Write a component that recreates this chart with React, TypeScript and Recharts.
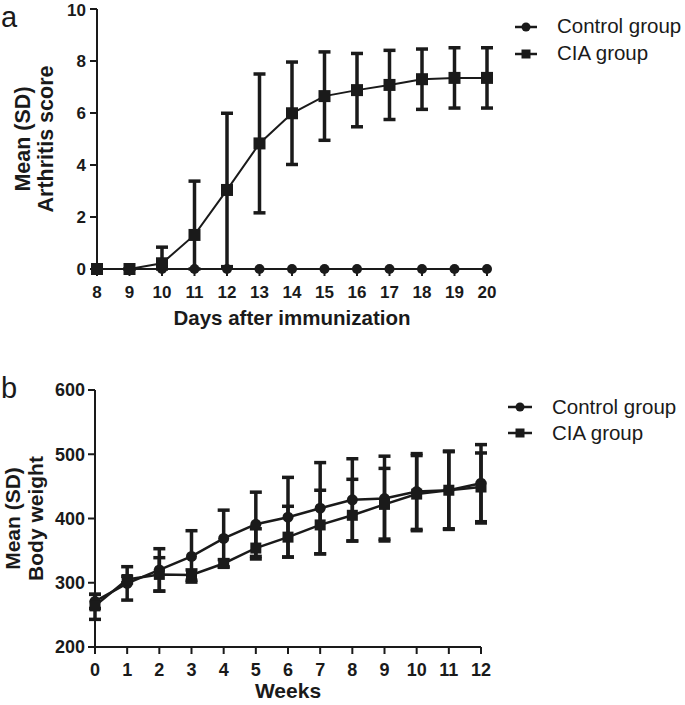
import React from "react";
import { LineChart, Line, XAxis, YAxis, ErrorBar } from "recharts";

const FONT = '"Liberation Sans", Arial, Helvetica, sans-serif';
const INK = "#1a1a1a";

// panel a: arthritis score
const days = [8, 9, 10, 11, 12, 13, 14, 15, 16, 17, 18, 19, 20];
const scoreTicks = [0, 2, 4, 6, 8, 10];
const controlScore = [0, 0, 0, 0, 0, 0, 0, 0, 0, 0, 0, 0, 0];
const ciaScore = [0, 0, 0.22, 1.31, 3.04, 4.83, 5.99, 6.65, 6.88, 7.08, 7.3, 7.35, 7.35];
const ciaScoreSd = [0, 0, 0.62, 2.07, 2.95, 2.67, 1.97, 1.7, 1.41, 1.33, 1.16, 1.16, 1.16];

// panel b: body weight
const weeks = [0, 1, 2, 3, 4, 5, 6, 7, 8, 9, 10, 11, 12];
const weightTicks = [200, 300, 400, 500, 600];
const controlWeight = [271, 299, 320, 341, 369, 391, 402, 416, 429, 431, 442, 444, 455];
const controlWeightSd = [11, 26, 33, 40, 44, 50, 62, 71, 64, 66, 59, 61, 60];
const ciaWeight = [264, 305, 313, 312, 330, 354, 371, 390, 405, 422, 438, 444, 449];
const ciaWeightSdUp = [18, 5, 26, 8, 6, 30, 48, 54, 56, 56, 60, 60, 53];
const ciaWeightSdDown = [21, 5, 26, 8, 6, 17, 31, 45, 40, 54, 57, 60, 56];

const groupNames = ["Control group", "CIA group"];

const scoreData = days.map((d, i) => ({
  day: d,
  control: controlScore[i],
  cia: ciaScore[i],
  // lower bar stops at the axis
  ciaErr: [Math.min(ciaScoreSd[i], ciaScore[i]), ciaScoreSd[i]],
}));

const weightData = weeks.map((w, i) => ({
  week: w,
  control: controlWeight[i],
  controlErr: controlWeightSd[i],
  cia: ciaWeight[i],
  ciaErr: [ciaWeightSdDown[i], ciaWeightSdUp[i]],
}));

const squareDot = (size: number) => (props: any) => {
  const { cx, cy, index } = props;
  return (
    <rect
      key={`sq-${index}`}
      x={cx - size / 2}
      y={cy - size / 2}
      width={size}
      height={size}
      fill={INK}
    />
  );
};

const rotatedLabel = (lines: string[], xs: number[], size: number) => (props: any) => {
  const vb = props.viewBox || {};
  const cy = vb.y + vb.height / 2;
  return (
    <g>
      {lines.map((t, i) => (
        <text
          key={t}
          x={xs[i]}
          y={cy}
          transform={`rotate(-90 ${xs[i]} ${cy})`}
          textAnchor="middle"
          fontFamily={FONT}
          fontWeight={700}
          fontSize={size}
          fill={INK}
        >
          {t}
        </text>
      ))}
    </g>
  );
};

const bottomLabel = (text: string, y: number, size: number) => (props: any) => {
  const vb = props.viewBox || {};
  return (
    <text
      x={vb.x + vb.width / 2}
      y={y}
      textAnchor="middle"
      fontFamily={FONT}
      fontWeight={700}
      fontSize={size}
      fill={INK}
    >
      {text}
    </text>
  );
};

function LegendBox({ left, top, symW, gap, rowH }: { left: number; top: number; symW: number; gap: number; rowH: number }) {
  return (
    <div style={{ position: "absolute", left, top, fontFamily: FONT, fontSize: 20.5, color: INK }}>
      {groupNames.map((name, i) => (
        <div key={name} style={{ display: "flex", alignItems: "center", height: rowH }}>
          <svg width={symW} height={14} style={{ marginRight: gap }}>
            <line x1={0} y1={7} x2={symW} y2={7} stroke={INK} strokeWidth={2.5} />
            {i === 0 ? (
              <circle cx={symW / 2} cy={7} r={4.5} fill={INK} />
            ) : (
              <rect x={symW / 2 - 4.5} y={2.5} width={9} height={9} fill={INK} />
            )}
          </svg>
          <span style={{ lineHeight: 1 }}>{name}</span>
        </div>
      ))}
    </div>
  );
}

const panelLetter = (letter: string, top: number, baseline: number) => (
  <svg style={{ position: "absolute", left: 0, top }} width={30} height={40}>
    <text x={1} y={baseline} fontFamily={FONT} fontSize={29} fill={INK}>
      {letter}
    </text>
  </svg>
);

export default function App() {
  const axisLine = { stroke: INK, strokeWidth: 2 };
  return (
    <div style={{ position: "absolute", left: 0, top: 0, width: 685, height: 705, background: "#fff" }}>
      {panelLetter("a", 0, 27)}
      {panelLetter("b", 368, 30)}

      <div style={{ position: "absolute", left: 0, top: 0 }}>
        <LineChart width={685} height={340} data={scoreData} margin={{ top: 9, right: 198, left: 27, bottom: 31 }}>
          <XAxis
            dataKey="day"
            type="number"
            domain={[8, 20]}
            ticks={days}
            interval={0}
            height={40}
            axisLine={axisLine}
            tickLine={axisLine}
            tickSize={7}
            tickMargin={10}
            tick={{ fontSize: 17, fontWeight: 700, fill: INK, fontFamily: FONT }}
            label={{ content: bottomLabel("Days after immunization", 325, 20.5) }}
          />
          <YAxis
            type="number"
            domain={[0, 10]}
            ticks={scoreTicks}
            width={70}
            axisLine={axisLine}
            tickLine={axisLine}
            tickSize={7}
            tickMargin={4}
            tick={{ fontSize: 17, fontWeight: 700, fill: INK, fontFamily: FONT }}
            label={{ content: rotatedLabel(["Mean (SD)", "Arthritis score"], [30, 53], 21.5) }}
          />
          <Line
            dataKey="control"
            stroke={INK}
            strokeWidth={2}
            dot={{ r: 5, fill: INK, stroke: INK, strokeWidth: 0 }}
            isAnimationActive={false}
          />
          <Line
            dataKey="cia"
            stroke={INK}
            strokeWidth={2}
            dot={squareDot(12)}
            isAnimationActive={false}
          >
            <ErrorBar dataKey="ciaErr" direction="y" width={6} strokeWidth={3.5} stroke={INK} isAnimationActive={false} />
          </Line>
        </LineChart>
      </div>
      <LegendBox left={515} top={13} symW={22} gap={20} rowH={27} />

      <div style={{ position: "absolute", left: 0, top: 340 }}>
        <LineChart width={685} height={365} data={weightData} margin={{ top: 50, right: 204, left: 25, bottom: 18 }}>
          <XAxis
            dataKey="week"
            type="number"
            domain={[0, 12]}
            ticks={weeks}
            interval={0}
            height={40}
            axisLine={axisLine}
            tickLine={axisLine}
            tickSize={7}
            tickMargin={9}
            tick={{ fontSize: 18, fontWeight: 700, fill: INK, fontFamily: FONT }}
            label={{ content: bottomLabel("Weeks", 358, 21) }}
          />
          <YAxis
            type="number"
            domain={[200, 600]}
            ticks={weightTicks}
            width={70}
            axisLine={axisLine}
            tickLine={axisLine}
            tickSize={7}
            tickMargin={3}
            tick={{ fontSize: 18, fontWeight: 700, fill: INK, fontFamily: FONT }}
            label={{ content: rotatedLabel(["Mean (SD)", "Body weight"], [20, 43], 21) }}
          />
          <Line
            dataKey="control"
            stroke={INK}
            strokeWidth={2.5}
            dot={{ r: 5.5, fill: INK, stroke: INK, strokeWidth: 0 }}
            isAnimationActive={false}
          >
            <ErrorBar dataKey="controlErr" direction="y" width={6} strokeWidth={3.5} stroke={INK} isAnimationActive={false} />
          </Line>
          <Line
            dataKey="cia"
            stroke={INK}
            strokeWidth={2.5}
            dot={squareDot(11)}
            isAnimationActive={false}
          >
            <ErrorBar dataKey="ciaErr" direction="y" width={6} strokeWidth={3.5} stroke={INK} isAnimationActive={false} />
          </Line>
        </LineChart>
      </div>
      <LegendBox left={508} top={394} symW={24} gap={20} rowH={26} />
    </div>
  );
}
